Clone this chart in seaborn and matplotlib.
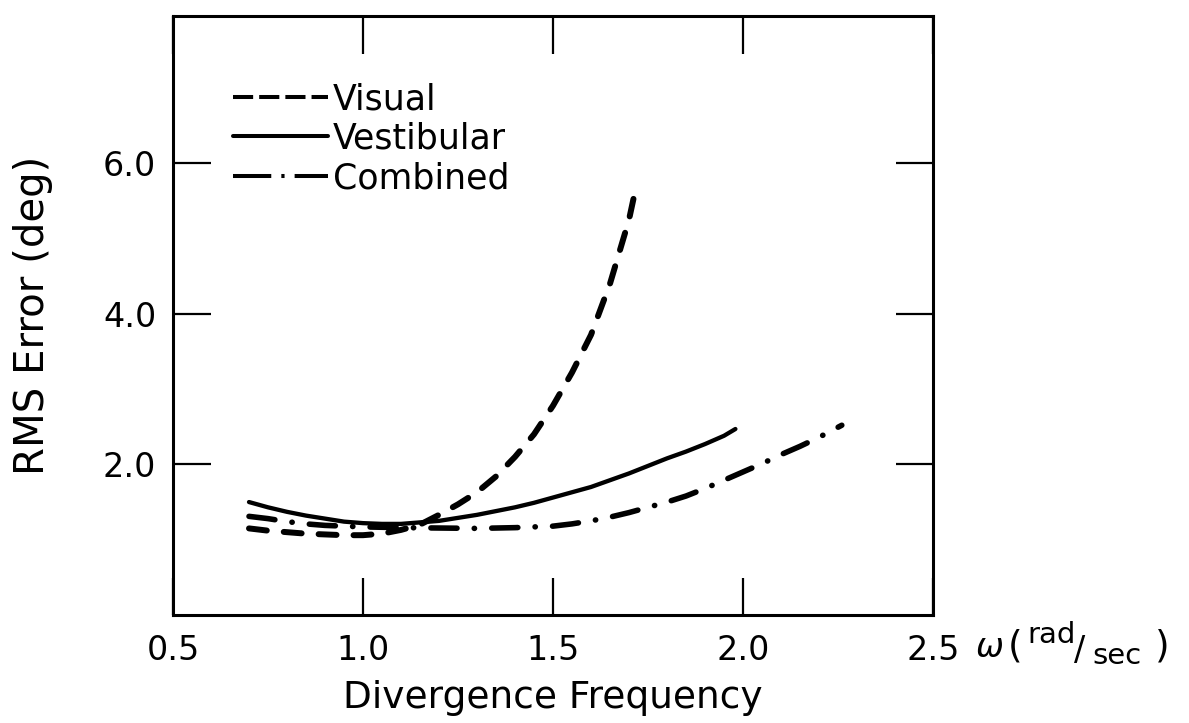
import matplotlib
matplotlib.use("Agg")
import matplotlib.pyplot as plt
import seaborn as sns
import pandas as pd
from matplotlib.lines import Line2D

# ---- data ----
visual_x = [0.70, 0.75, 0.80, 0.85, 0.90, 0.95, 1.00, 1.05, 1.10, 1.15, 1.20, 1.25,
            1.30, 1.35, 1.40, 1.45, 1.50, 1.55, 1.60, 1.65, 1.70, 1.72]
visual_y = [1.15, 1.12, 1.10, 1.08, 1.07, 1.06, 1.06, 1.08, 1.13, 1.20, 1.33, 1.47,
            1.63, 1.84, 2.10, 2.40, 2.78, 3.22, 3.72, 4.40, 5.25, 5.72]

vestib_x = [0.70, 0.75, 0.80, 0.85, 0.90, 0.95, 1.00, 1.05, 1.10, 1.15, 1.20, 1.25, 1.30,
            1.35, 1.40, 1.45, 1.50, 1.55, 1.60, 1.65, 1.70, 1.75, 1.80, 1.85, 1.90, 1.95, 1.98]
vestib_y = [1.50, 1.43, 1.37, 1.32, 1.28, 1.24, 1.22, 1.21, 1.21, 1.23, 1.25, 1.29, 1.33,
            1.38, 1.43, 1.49, 1.56, 1.63, 1.70, 1.79, 1.88, 1.98, 2.08, 2.17, 2.27, 2.38, 2.47]

comb_x = [0.70, 0.75, 0.80, 0.85, 0.90, 0.95, 1.00, 1.10, 1.20, 1.30, 1.40, 1.50, 1.55,
          1.60, 1.65, 1.70, 1.75, 1.80, 1.85, 1.90, 1.95, 2.00, 2.05, 2.10, 2.15, 2.20, 2.26]
comb_y = [1.31, 1.28, 1.24, 1.21, 1.19, 1.18, 1.17, 1.16, 1.155, 1.15, 1.16, 1.18, 1.21,
          1.25, 1.30, 1.36, 1.43, 1.50, 1.58, 1.68, 1.79, 1.90, 2.01, 2.13, 2.24, 2.36, 2.52]

series_labels = ["Visual", "Vestibular", "Combined"]
x_ticks = [0.5, 1.0, 1.5, 2.0, 2.5]
x_ticklabels = ["0.5", "1.0", "1.5", "2.0", "2.5"]
y_ticks = [2.0, 4.0, 6.0]
y_ticklabels = ["2.0", "4.0", "6.0"]
x_label = "Divergence Frequency"
y_label = "RMS Error (deg)"
unit_parts = ["\u03c9", "(", "rad", "/", "sec", ")"]

# ---- drawing ----
sns.set_style("white")
plt.rcParams["font.family"] = ["DejaVu Sans"]
for k in ["text.color", "axes.labelcolor", "xtick.color", "ytick.color", "axes.edgecolor"]:
    plt.rcParams[k] = "black"

fig = plt.figure(figsize=(11.89, 7.23), dpi=100)
W, H = 1189, 723
left, right, bottom, top = 173, 933, 615, 16
ax = fig.add_axes([left / W, (H - bottom) / H, (right - left) / W, (bottom - top) / H])

df_v = pd.DataFrame({"x": visual_x, "y": visual_y})
df_s = pd.DataFrame({"x": vestib_x, "y": vestib_y})
df_c = pd.DataFrame({"x": comb_x, "y": comb_y})

sns.lineplot(data=df_v, x="x", y="y", ax=ax, color="black", linewidth=4.3)
l_v = ax.lines[-1]
l_v.set_dashes((3.0, 2.85))
l_v.set_dash_capstyle("round")

sns.lineplot(data=df_s, x="x", y="y", ax=ax, color="black", linewidth=3.1)
l_s = ax.lines[-1]
l_s.set_solid_capstyle("round")

sns.lineplot(data=df_c, x="x", y="y", ax=ax, color="black", linewidth=4.0)
l_c = ax.lines[-1]
l_c.set_dashes((4.7, 3.1, 0.05, 3.1))
l_c.set_dash_capstyle("round")

ax.set_xlim(0.5, 2.5)
ax.set_ylim(0, (bottom - top) / 75.3)

ax.set_xticks(x_ticks)
ax.set_xticklabels(x_ticklabels)
ax.set_yticks(y_ticks)
ax.set_yticklabels(y_ticklabels)
ax.tick_params(axis="both", which="major", direction="in", length=27, width=1.6,
               top=True, right=True, bottom=True, left=True,
               labelsize=24, pad=12, color="black", labelcolor="black")
ax.tick_params(axis="x", pad=14)

for sp in ax.spines.values():
    sp.set_visible(True)
    sp.set_linewidth(2.2)
    sp.set_color("black")

ax.set_xlabel(x_label, fontsize=27)
ax.xaxis.set_label_coords(0.5, -0.108)
ax.set_ylabel(y_label, fontsize=29)
ax.yaxis.set_label_coords(-0.158, 0.5)

# unit label  omega (rad/sec)
def px(xp, yp):
    return xp / W, 1 - yp / H

fig.text(*px(976, 657), unit_parts[0], fontsize=24, ha="left", va="baseline", style="italic")
fig.text(*px(1008, 657), unit_parts[1], fontsize=27, ha="left", va="baseline")
fig.text(*px(1027, 643), unit_parts[2], fontsize=21, ha="left", va="baseline")
fig.text(*px(1074, 660), unit_parts[3], fontsize=24, ha="left", va="baseline")
fig.text(*px(1092, 664), unit_parts[4], fontsize=21, ha="left", va="baseline")
fig.text(*px(1155, 657), unit_parts[5], fontsize=27, ha="left", va="baseline")

# legend with proxies
h_v = Line2D([], [], color="black", linewidth=2.9, dashes=(5.0, 1.5))
h_s = Line2D([], [], color="black", linewidth=2.9)
h_c = Line2D([], [], color="black", linewidth=2.9, dashes=(9.5, 2.5, 0.8, 2.5))
ax.legend([h_v, h_s, h_c], series_labels, loc="upper left",
          bbox_to_anchor=((233 - left) / (right - left), (bottom - 82) / (bottom - top)),
          frameon=False, fontsize=25, handlelength=2.74, handletextpad=0.14,
          labelspacing=0.16, borderpad=0, borderaxespad=0)

fig.savefig("out.png", dpi=100, facecolor="white")
